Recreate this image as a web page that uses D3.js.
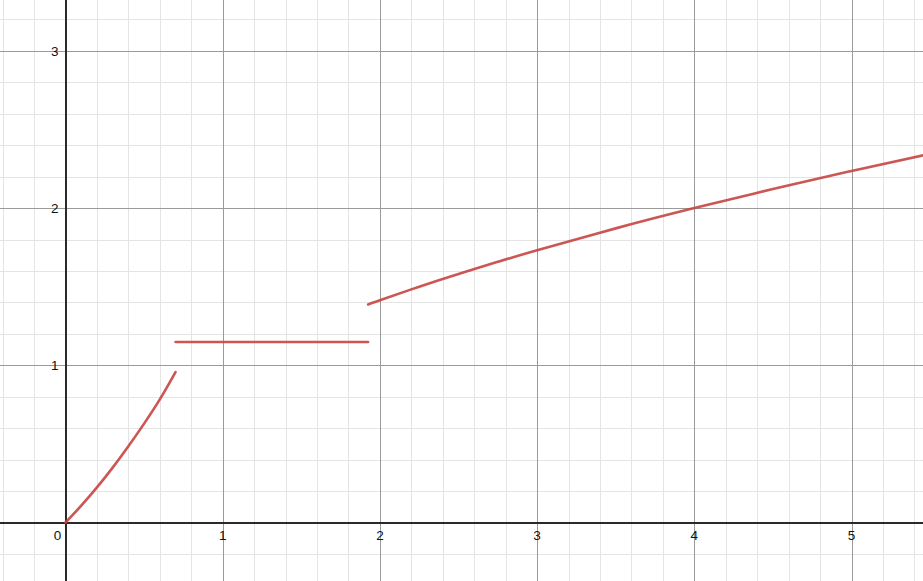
<!DOCTYPE html>
<html>
<head>
<meta charset="utf-8">
<script src="https://cdn.jsdelivr.net/npm/d3@7"></script>
<style>
  html, body { margin: 0; padding: 0; background: #fff; }
  svg { display: block; }
</style>
</head>
<body>
<svg id="chart" width="923" height="581"></svg>
<script>
// Piece 1 (curved rise from the origin)
const piece1X = [0, 0.1, 0.2, 0.3, 0.4, 0.5, 0.6, 0.7];
const piece1Y = [0, 0.107, 0.223, 0.349, 0.485, 0.629, 0.783, 0.957];
// Piece 2 (flat segment)
const piece2X = [0.7, 1.925];
const piece2Y = [1.148, 1.148];
// Piece 3 (square-root-like growth)
const piece3X = [1.925, 2, 2.25, 2.5, 2.75, 3, 3.5, 4, 4.5, 5, 5.5];
const piece3Y = [1.387, 1.414, 1.5, 1.581, 1.658, 1.732, 1.871, 2.0, 2.121, 2.236, 2.345];

const xTicks = [0, 1, 2, 3, 4, 5];
const yTicks = [1, 2, 3];

const W = 923, H = 581;
const ox = 65.5, oy = 522.5, unit = 157.2;
const x = d3.scaleLinear().domain([-ox / unit, (W - ox) / unit]).range([0, W]);
const y = d3.scaleLinear().domain([-(H - oy) / unit, oy / unit]).range([H, 0]);

const svg = d3.select("#chart");

// minor grid
const minorX = d3.range(-2, 28).map(i => i * 0.2).filter(v => Math.abs(v - Math.round(v)) > 1e-6);
const minorY = d3.range(-2, 17).map(i => i * 0.2).filter(v => Math.abs(v - Math.round(v)) > 1e-6);
const g = svg.append("g").attr("shape-rendering", "crispEdges");
g.selectAll(".mx").data(minorX).enter().append("line")
  .attr("x1", d => Math.round(x(d)) + 0.5).attr("x2", d => Math.round(x(d)) + 0.5)
  .attr("y1", 0).attr("y2", H).attr("stroke", "#e4e4e4").attr("stroke-width", 1);
g.selectAll(".my").data(minorY).enter().append("line")
  .attr("y1", d => Math.round(y(d)) + 0.5).attr("y2", d => Math.round(y(d)) + 0.5)
  .attr("x1", 0).attr("x2", W).attr("stroke", "#e4e4e4").attr("stroke-width", 1);

// major grid
g.selectAll(".Mx").data(xTicks.filter(d => d !== 0)).enter().append("line")
  .attr("x1", d => Math.round(x(d)) + 0.5).attr("x2", d => Math.round(x(d)) + 0.5)
  .attr("y1", 0).attr("y2", H).attr("stroke", "#9a9a9a").attr("stroke-width", 1);
g.selectAll(".My").data(yTicks).enter().append("line")
  .attr("y1", d => Math.round(y(d)) + 0.5).attr("y2", d => Math.round(y(d)) + 0.5)
  .attr("x1", 0).attr("x2", W).attr("stroke", "#9a9a9a").attr("stroke-width", 1);

// axes
g.append("line").attr("x1", x(0)).attr("x2", x(0)).attr("y1", 0).attr("y2", H)
  .attr("stroke", "#2a2a2a").attr("stroke-width", 2);
g.append("line").attr("y1", y(0)).attr("y2", y(0)).attr("x1", 0).attr("x2", W)
  .attr("stroke", "#2a2a2a").attr("stroke-width", 2);

// tick labels
const font = "Arial, 'Liberation Sans', sans-serif";
svg.selectAll(".xl").data(xTicks).enter().append("text")
  .attr("x", d => d === 0 ? x(0) - 8 : x(d))
  .attr("y", y(0) + 17)
  .attr("text-anchor", "middle")
  .attr("font-family", font).attr("font-size", 13.5).attr("fill", "#111")
  .text(d => d);
svg.selectAll(".yl").data(yTicks).enter().append("text")
  .attr("x", x(0) - 7)
  .attr("y", d => y(d) + 5)
  .attr("text-anchor", "end")
  .attr("font-family", font).attr("font-size", 13.5).attr("fill", "#111")
  .text(d => d);

// curves
const line = d3.line().x(d => x(d[0])).y(d => y(d[1])).curve(d3.curveNatural);
const pieces = [
  d3.zip(piece1X, piece1Y),
  d3.zip(piece2X, piece2Y),
  d3.zip(piece3X, piece3Y)
];
svg.append("g").selectAll("path").data(pieces).enter().append("path")
  .attr("d", line)
  .attr("fill", "none")
  .attr("stroke", "#c74440")
  .attr("stroke-opacity", 0.9)
  .attr("stroke-width", 2.6)
  .attr("stroke-linecap", "round")
  .attr("stroke-linejoin", "round");
</script>
</body>
</html>
